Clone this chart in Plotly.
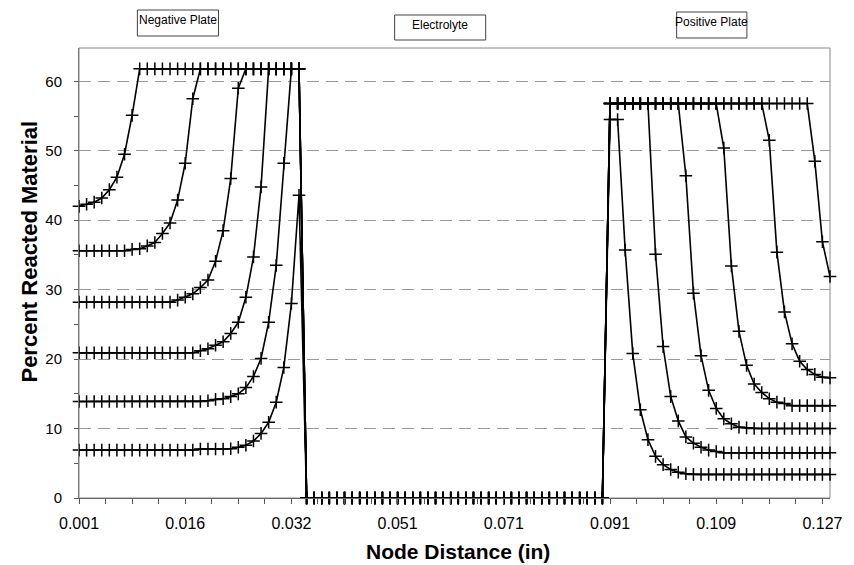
import plotly.graph_objects as go

# ---------------- data ----------------
# x positions are node indices 0..99 (category-style axis); tick labels are node distances (in)
tick_nodes = [0, 14, 28, 42, 56, 70, 84, 98]
tick_labels = ["0.001", "0.016", "0.032", "0.051", "0.071", "0.091", "0.109", "0.127"]

# electrolyte nodes 30..69 (all series at zero)
electrolyte = [0, 0, 0, 0, 0, 0, 0, 0, 0, 0, 0, 0, 0, 0, 0, 0, 0, 0, 0, 0,
               0, 0, 0, 0, 0, 0, 0, 0, 0, 0, 0, 0, 0, 0, 0, 0, 0, 0, 0, 0]

# negative plate nodes 0..29
neg_A = [6.9, 6.9, 6.9, 6.9, 6.9, 6.9, 6.9, 6.9, 6.9, 6.9, 6.9, 6.9, 6.9, 6.9, 6.9, 6.9,
         7.05, 7.05, 7.05, 7.05, 7.1, 7.3, 7.6, 8.2, 9.3, 10.9, 13.8, 18.8, 28.0, 43.6]
neg_B = [13.9, 13.9, 13.9, 13.9, 13.9, 13.9, 13.9, 13.9, 13.9, 13.9, 13.9, 13.9, 13.9, 13.9, 13.9, 13.9, 13.9,
         14.0, 14.2, 14.3, 14.6, 15.0, 15.9, 17.5, 20.1, 25.3, 33.5, 48.2, 61.8, 61.8]
neg_C = [20.9, 20.9, 20.9, 20.9, 20.9, 20.9, 20.9, 20.9, 20.9, 20.9, 20.9, 20.9, 20.9, 20.9, 20.9, 20.9,
         21.2, 21.5, 22.0, 22.5, 23.7, 25.3, 28.9, 34.7, 44.8, 61.8, 61.8, 61.8, 61.8, 61.8]
neg_D = [28.2, 28.2, 28.2, 28.2, 28.2, 28.2, 28.2, 28.2, 28.2, 28.2, 28.2, 28.2, 28.2,
         28.5, 28.9, 29.4, 30.3, 31.4, 34.1, 38.5, 46.0, 59.0,
         61.8, 61.8, 61.8, 61.8, 61.8, 61.8, 61.8, 61.8]
neg_E = [35.6, 35.6, 35.6, 35.6, 35.6, 35.6, 35.6, 35.8, 35.9, 36.3, 36.8, 38.1, 39.6, 42.9, 48.2, 57.5,
         61.8, 61.8, 61.8, 61.8, 61.8, 61.8, 61.8, 61.8, 61.8, 61.8, 61.8, 61.8, 61.8, 61.8]
neg_F = [42.0, 42.3, 42.6, 43.2, 44.4, 46.2, 49.5, 55.1,
         61.8, 61.8, 61.8, 61.8, 61.8, 61.8, 61.8, 61.8, 61.8, 61.8, 61.8, 61.8, 61.8,
         61.8, 61.8, 61.8, 61.8, 61.8, 61.8, 61.8, 61.8, 61.8]

# positive plate nodes 70..99
pos_A = [54.5, 54.5, 35.7, 20.8, 12.7, 8.4, 6.0, 4.8, 4.1, 3.7, 3.5,
         3.4, 3.4, 3.4, 3.4, 3.4, 3.4, 3.4, 3.4, 3.4, 3.4, 3.4, 3.4, 3.4, 3.4, 3.4, 3.4, 3.4, 3.4, 3.4]
pos_B = [56.8, 56.8, 56.8, 56.8, 56.8, 56.8, 35.1, 21.8, 14.6, 11.1, 8.8, 7.9, 7.3, 6.9, 6.7,
         6.5, 6.5, 6.5, 6.5, 6.5, 6.5, 6.5, 6.5, 6.5, 6.5, 6.5, 6.5, 6.5, 6.5, 6.5]
pos_C = [56.8, 56.8, 56.8, 56.8, 56.8, 56.8, 56.8, 56.8, 56.8, 56.8,
         46.4, 29.5, 20.5, 15.5, 12.9, 11.4, 10.7, 10.2, 10.1,
         10.0, 10.0, 10.0, 10.0, 10.0, 10.0, 10.0, 10.0, 10.0, 10.0, 10.0]
pos_D = [56.8, 56.8, 56.8, 56.8, 56.8, 56.8, 56.8, 56.8, 56.8, 56.8, 56.8, 56.8, 56.8, 56.8, 56.8,
         50.4, 33.4, 24.0, 19.1, 16.4, 15.2, 14.3, 13.8, 13.6,
         13.3, 13.3, 13.3, 13.3, 13.3, 13.3]
pos_E = [56.8, 56.8, 56.8, 56.8, 56.8, 56.8, 56.8, 56.8, 56.8, 56.8, 56.8, 56.8, 56.8, 56.8, 56.8,
         56.8, 56.8, 56.8, 56.8, 56.8, 56.8,
         51.5, 35.4, 26.8, 22.2, 19.7, 18.5, 17.8, 17.4, 17.3]
pos_F = [56.8, 56.8, 56.8, 56.8, 56.8, 56.8, 56.8, 56.8, 56.8, 56.8, 56.8, 56.8, 56.8, 56.8, 56.8,
         56.8, 56.8, 56.8, 56.8, 56.8, 56.8, 56.8, 56.8, 56.8, 56.8, 56.8, 56.8,
         48.5, 36.9, 31.9]

series = {
    "A": (neg_A, pos_A),
    "B": (neg_B, pos_B),
    "C": (neg_C, pos_C),
    "D": (neg_D, pos_D),
    "E": (neg_E, pos_E),
    "F": (neg_F, pos_F),
}

region_labels = ["Negative Plate", "Electrolyte", "Positive Plate"]

# ---------------- figure ----------------
W, H = 854, 565
PL, PR, PT, PB = 79, 838, 48, 498


def px(x):
    return (x - PL) / (PR - PL)


def py(y):
    return (PB - y) / (PB - PT)


fig = go.Figure()
for name, (neg, pos) in series.items():
    yvals = neg + electrolyte + pos
    fig.add_trace(go.Scatter(
        x=list(range(len(yvals))), y=yvals, mode="lines+markers", name=name,
        line=dict(color="black", width=1.6),
        marker=dict(symbol="cross-thin", size=9, line=dict(color="black", width=1.5)),
        cliponaxis=False, showlegend=False,
    ))

FONT = "Liberation Sans, Arial, sans-serif"

fig.update_layout(
    width=W, height=H,
    margin=dict(l=PL, r=W - PR, t=PT, b=H - PB),
    paper_bgcolor="white", plot_bgcolor="white",
    font=dict(family=FONT, size=15, color="black"),
    showlegend=False,
)

fig.update_xaxes(
    range=[0, 99], tickvals=tick_nodes, ticktext=tick_labels,
    ticks="outside", ticklen=5, tickcolor="#555", tickwidth=1,
    minor=dict(dtick=3.5, tick0=0, ticks="outside", ticklen=5, tickcolor="#555", showgrid=False),
    showgrid=False, zeroline=False, showline=True, linecolor="#666", linewidth=1,
    ticklabelstandoff=6, tickfont=dict(size=16),
)
fig.update_yaxes(
    range=[0, 64.8], tickvals=[0, 10, 20, 30, 40, 50, 60],
    ticks="outside", ticklen=4, tickcolor="#555",
    minor=dict(dtick=5, ticks="outside", ticklen=4, tickcolor="#555", showgrid=False),
    showgrid=True, gridcolor="#9a9a9a", gridwidth=1, griddash="12px,7px",
    zeroline=False, showline=True, linecolor="#777", linewidth=1,
    ticklabelstandoff=9, tickfont=dict(size=15),
)

# plot-area border
fig.add_shape(type="rect", xref="paper", yref="paper", x0=0, x1=1, y0=0, y1=1,
              line=dict(color="#888", width=1), layer="below")

# axis titles
fig.add_annotation(text="<b>Node Distance (in)</b>", xref="paper", yref="paper",
                   x=px(462), y=py(551), xanchor="center", yanchor="middle",
                   showarrow=False, font=dict(size=21, family=FONT))
fig.add_annotation(text="<b>Percent Reacted Material</b>", xref="paper", yref="paper",
                   x=px(28), y=py(252), xanchor="center", yanchor="middle",
                   textangle=-90, showarrow=False, font=dict(size=22, family=FONT))

# region label boxes
boxes = [(138, 220, 10, 36), (398, 490, 15, 40), (683, 754, 12, 38)]
for label, (x0, x1, y0, y1) in zip(region_labels, boxes):
    fig.add_shape(type="rect", xref="paper", yref="paper",
                  x0=px(x0), x1=px(x1), y0=py(y1), y1=py(y0),
                  line=dict(color="#444", width=1), fillcolor="white")
    fig.add_annotation(text=label, xref="paper", yref="paper",
                       x=px((x0 + x1) / 2), y=py(y0 + 1), xanchor="center", yanchor="top",
                       showarrow=False, font=dict(size=12, family=FONT))

fig.write_html("out.html")
